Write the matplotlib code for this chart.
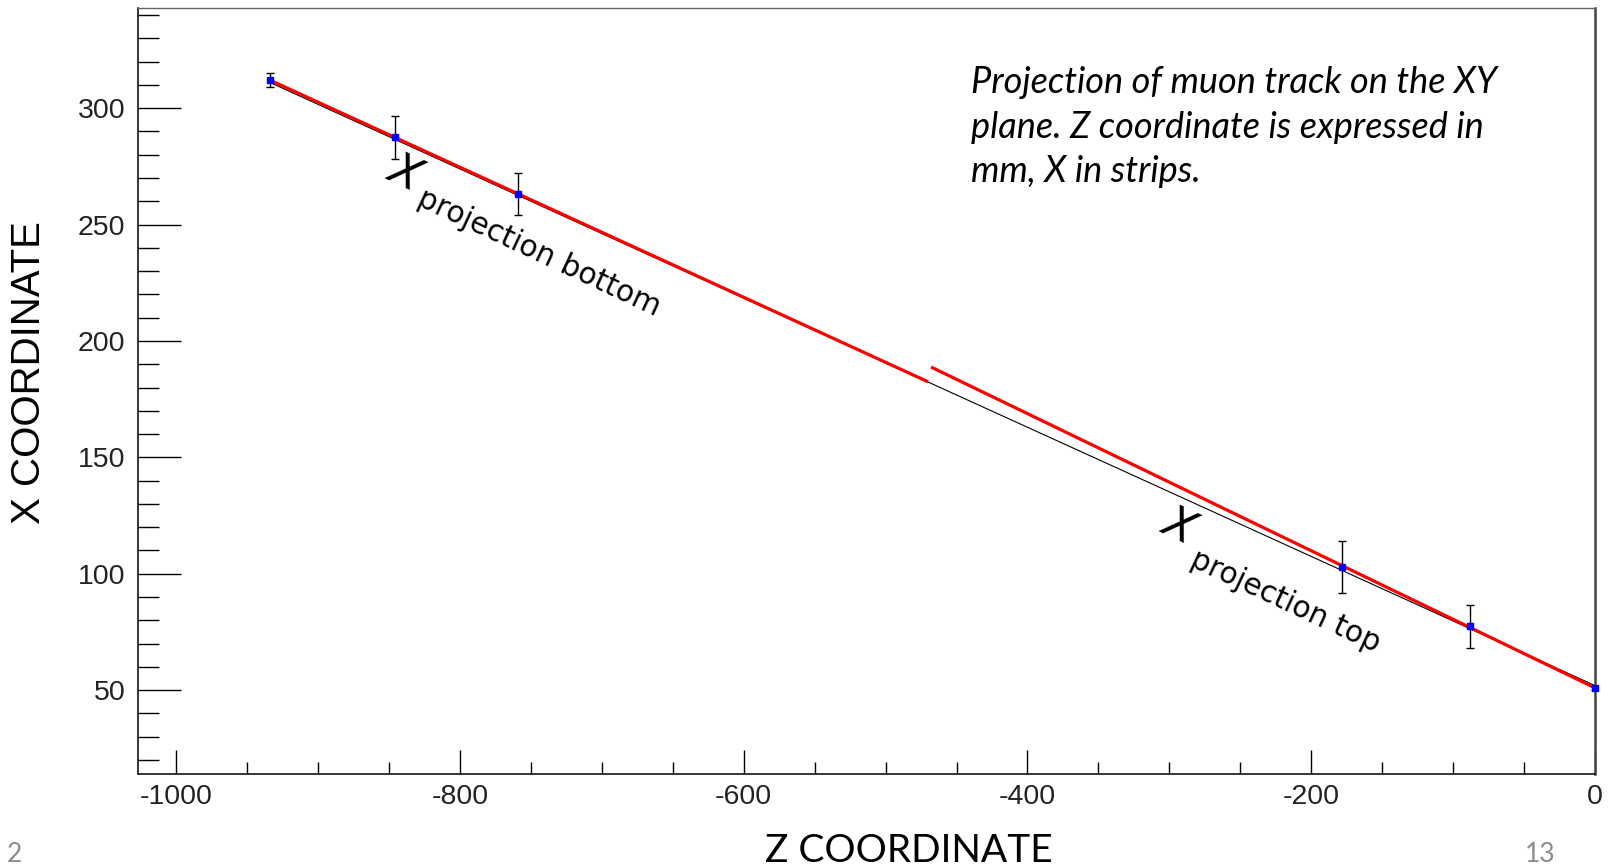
import numpy as np
import matplotlib
matplotlib.use("Agg")
import matplotlib.pyplot as plt
from matplotlib.ticker import MultipleLocator

plt.rcParams['axes.unicode_minus'] = False

# measured hits: z position (mm), x position (strips), error (strips)
hit_z = [-934, -846, -759, -178, -88, 0]
hit_x = [312.0, 287.5, 263.0, 103.0, 77.5, 51.0]
hit_err = [3.0, 9.2, 9.0, 11.2, 9.2, 1.0]

# fitted segments: bottom chamber, top chamber, global track
fit_bottom_z = [-934, -471]
fit_bottom_x = [312.0, 182.7]
fit_top_z = [-467, 0]
fit_top_x = [188.5, 51.0]
fit_all_z = [-934, 0]
fit_all_x = [311.0, 52.0]

note_lines = ["Projection of muon track on the XY",
              "plane. Z coordinate is expressed in",
              "mm, X in strips."]

fig = plt.figure(figsize=(16.14, 8.66), dpi=100)
ax = fig.add_axes([0.0855, 0.1062, 0.9027, 0.8846])

ax.plot(fit_all_z, fit_all_x, color='black', lw=0.8, zorder=2)
ax.plot(fit_bottom_z, fit_bottom_x, color='red', lw=2.3, zorder=3)
ax.plot(fit_top_z, fit_top_x, color='red', lw=2.3, zorder=3)
ax.errorbar(hit_z, hit_x, yerr=hit_err, fmt='none', ecolor='black',
            elinewidth=1.0, capsize=2.9, capthick=1.0, zorder=4)
ax.plot(hit_z, hit_x, 's', color='blue', ms=5, mec='blue', zorder=5, clip_on=False)

ax.set_xlim(-1027, 0)
ax.set_ylim(14, 343)

ax.xaxis.set_major_locator(MultipleLocator(200))
ax.xaxis.set_minor_locator(MultipleLocator(50))
ax.yaxis.set_major_locator(MultipleLocator(50))
ax.yaxis.set_minor_locator(MultipleLocator(10))
ax.tick_params(axis='both', which='both', direction='in', width=1.0,
               top=False, right=False, labelsize=20.5, colors='black')
ax.tick_params(axis='x', which='major', length=17.5, pad=7)
ax.tick_params(axis='x', which='minor', length=8.8)
ax.tick_params(axis='y', which='major', length=31, pad=9)
ax.tick_params(axis='y', which='minor', length=15)
for lab in ax.get_xticklabels() + ax.get_yticklabels():
    lab.set_fontfamily('Liberation Sans')
    lab.set_color('#222222')

ax.spines['left'].set_linewidth(1.1)
ax.spines['bottom'].set_linewidth(1.1)
ax.spines['top'].set_color('#666666')
ax.spines['top'].set_linewidth(1.0)
ax.spines['right'].set_color('#444444')
ax.spines['right'].set_linewidth(1.8)

# annotations
for i, line in enumerate(note_lines):
    ax.text(-440, 306.5 - i * 19.2, line, fontsize=26, style='italic',
            family='Lato', va='baseline', ha='left')

ax.text(-838.6, 272.1, 'X', fontsize=32, style='italic', family='DejaVu Sans',
        rotation=-25, ha='center', va='center', rotation_mode='anchor')
ax.text(-744, 238, 'projection bottom', fontsize=21.3, family='DejaVu Sans',
        rotation=-25, ha='center', va='center', rotation_mode='anchor')
ax.text(-293.2, 120.4, 'X', fontsize=32, style='italic', family='DejaVu Sans',
        rotation=-25, ha='center', va='center', rotation_mode='anchor')
ax.text(-218.5, 88.2, 'projection top', fontsize=21.3, family='DejaVu Sans',
        rotation=-25, ha='center', va='center', rotation_mode='anchor')

fig.text(29 / 1614, 1 - 373 / 866, 'X COORDINATE', rotation=90, fontsize=29,
         family='Liberation Sans', ha='center', va='center')
fig.text(909 / 1614, 1 - 862 / 866, 'Z COORDINATE', fontsize=28,
         family='Lato', ha='center', va='baseline')

# slide page numbers
fig.text(7 / 1614, 4 / 866, '2', fontsize=19, family='Lato', color='#8c8c8c',
         ha='left', va='baseline')
fig.text(1525 / 1614, 4 / 866, '13', fontsize=19, family='Lato', color='#8c8c8c',
         ha='left', va='baseline')

fig.savefig('out.png', dpi=100)
